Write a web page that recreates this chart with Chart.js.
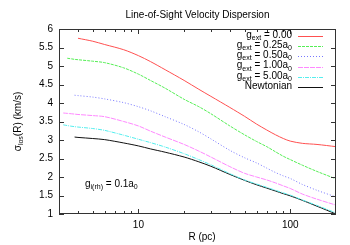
<!DOCTYPE html>
<html lang="en">
<head>
  <meta charset="UTF-8">
  <title>Line-of-Sight Velocity Dispersion</title>
  <script src="https://cdn.jsdelivr.net/npm/chart.js"></script>
  <style>
    body {
      margin: 0;
      background: #fff;
    }
    canvas {
      display: block;
    }
  </style>
</head>
<body>
  <canvas id="grafica" width="350" height="245"></canvas>

  <script>
    // Radios (pc) y dispersiones (km/s)
    const radius = [3.2, 3.4, 3.8, 4, 5, 6, 8, 10, 12, 15, 20, 25, 30, 40, 50, 60, 70, 80, 90, 100, 120, 150, 200];
    const gExt000 = [null, null, null, 5.75, 5.67, 5.58, 5.44, 5.28, 5.12, 4.90, 4.61, 4.37, 4.18, 3.88, 3.64, 3.43, 3.27, 3.14, 3.04, 2.97, 2.91, 2.88, 2.82];
    const gExt025 = [null, 5.21, 5.18, 5.17, 5.13, 5.09, 4.95, 4.78, 4.61, 4.40, 4.10, 3.90, 3.71, 3.38, 3.14, 2.96, 2.82, 2.68, 2.56, 2.47, 2.32, 2.15, 1.95];
    const gExt050 = [null, null, 4.21, 4.20, 4.16, 4.11, 4.01, 3.90, 3.79, 3.63, 3.42, 3.22, 3.03, 2.72, 2.52, 2.38, 2.24, 2.12, 2.03, 1.96, 1.80, 1.64, 1.46];
    const gExt100 = [3.73, 3.72, 3.70, 3.69, 3.66, 3.63, 3.50, 3.38, 3.24, 3.08, 2.88, 2.70, 2.54, 2.28, 2.10, 2.00, 1.92, 1.84, 1.76, 1.69, 1.54, 1.40, 1.24];
    const gExt500 = [3.41, 3.39, 3.36, 3.35, 3.31, 3.26, 3.13, 3.02, 2.93, 2.81, 2.63, 2.47, 2.33, 2.09, 1.92, 1.81, 1.72, 1.64, 1.57, 1.51, 1.38, 1.23, 1.03];
    const newtonian = [null, null, 3.08, 3.07, 3.04, 3.01, 2.92, 2.84, 2.76, 2.67, 2.54, 2.41, 2.29, 2.07, 1.91, 1.79, 1.70, 1.62, 1.55, 1.49, 1.37, 1.21, 1.00];

    const xTickLabels = [10, 100];
    const xMinorTicks = [4, 5, 6, 7, 8, 9, 20, 30, 40, 50, 60, 70, 80, 90];
    const yTicks = [1, 1.5, 2, 2.5, 3, 3.5, 4, 4.5, 5, 5.5, 6];

    const seriesNames = [
      [['g'], ['ext', 1], [' = 0.00']],
      [['g'], ['ext', 1], [' = 0.25a'], ['0', 1]],
      [['g'], ['ext', 1], [' = 0.50a'], ['0', 1]],
      [['g'], ['ext', 1], [' = 1.00a'], ['0', 1]],
      [['g'], ['ext', 1], [' = 5.00a'], ['0', 1]],
      [['Newtonian']]
    ];
    const seriesValues = [gExt000, gExt025, gExt050, gExt100, gExt500, newtonian];
    const colores = ['#ff5050', '#55ee55', '#7777ff', '#ff88ff', '#55eeee', '#111111'];
    const guiones = [[], [3, 1], [1, 2], [5, 1], [4, 1, 1, 1], []];

    const FONT = '"Liberation Sans", Arial, sans-serif';

    function puntos(vals) {
      const out = [];
      radius.forEach((r, i) => {
        if (vals[i] !== null) out.push({ x: r, y: vals[i] });
      });
      return out;
    }

    // Texto con subíndices
    function anchoRico(ctx, partes) {
      let w = 0;
      partes.forEach(p => {
        ctx.font = (p[1] ? '7px ' : '10px ') + FONT;
        w += ctx.measureText(p[0]).width;
      });
      return w;
    }
    function textoRico(ctx, partes, x, y, align) {
      const w = anchoRico(ctx, partes);
      let cx = align === 'right' ? x - w : (align === 'center' ? x - w / 2 : x);
      ctx.textAlign = 'left';
      ctx.textBaseline = 'middle';
      partes.forEach(p => {
        ctx.font = (p[1] ? '7px ' : '10px ') + FONT;
        ctx.fillText(p[0], cx, y + (p[1] ? 3 : 0));
        cx += ctx.measureText(p[0]).width;
      });
    }

    const decorado = {
      id: 'decorado',
      afterDraw(chart) {
        const ctx = chart.ctx;
        const a = chart.chartArea;
        const sx = chart.scales.x;
        const sy = chart.scales.y;
        ctx.save();
        ctx.fillStyle = '#000';

        // marco
        ctx.strokeStyle = '#333';
        ctx.lineWidth = 1;
        ctx.setLineDash([]);
        ctx.strokeRect(a.left + 0.5, a.top + 0.5, a.right - a.left - 1, a.bottom - a.top - 1);

        // marcas hacia dentro
        ctx.beginPath();
        xTickLabels.concat(xMinorTicks).forEach(v => {
          const len = xTickLabels.includes(v) ? 5 : 3;
          const px = Math.round(sx.getPixelForValue(v)) + 0.5;
          ctx.moveTo(px, a.bottom); ctx.lineTo(px, a.bottom - len);
          ctx.moveTo(px, a.top); ctx.lineTo(px, a.top + len);
        });
        yTicks.forEach(v => {
          const py = Math.round(sy.getPixelForValue(v)) + 0.5;
          ctx.moveTo(a.left, py); ctx.lineTo(a.left + 5, py);
          ctx.moveTo(a.right, py); ctx.lineTo(a.right - 5, py);
        });
        ctx.stroke();

        // título y ejes
        ctx.font = '10px ' + FONT;
        ctx.textAlign = 'center';
        ctx.textBaseline = 'middle';
        ctx.fillText('Line-of-Sight Velocity Dispersion', (a.left + a.right) / 2, 15);
        ctx.fillText('R (pc)', 202, 237);

        ctx.save();
        ctx.translate(18, (a.top + a.bottom) / 2);
        ctx.rotate(-Math.PI / 2);
        textoRico(ctx, [['σ'], ['los', 1], ['(R) (km/s)']], 0, 0, 'center');
        ctx.restore();

        textoRico(ctx, [['g'], ['i(rh)', 1], [' = 0.1a'], ['0', 1]], 85, 184, 'left');

        // leyenda
        seriesNames.forEach((partes, i) => {
          const y = 35 + i * 10.2;
          ctx.fillStyle = '#000';
          textoRico(ctx, partes, 292, y, 'right');
          ctx.strokeStyle = colores[i];
          ctx.setLineDash(guiones[i]);
          ctx.beginPath();
          ctx.moveTo(298, Math.round(y + 1) + 0.5);
          ctx.lineTo(323, Math.round(y + 1) + 0.5);
          ctx.stroke();
        });
        ctx.restore();
      }
    };

    const ctx = document.getElementById('grafica').getContext('2d');
    new Chart(ctx, {
      type: 'line',
      data: {
        datasets: seriesValues.map((vals, i) => ({
          data: puntos(vals),
          borderColor: colores[i],
          borderWidth: 1,
          borderDash: guiones[i],
          pointRadius: 0,
          tension: 0.3,
          fill: false
        }))
      },
      options: {
        responsive: false,
        animation: false,
        devicePixelRatio: 1,
        layout: { padding: { top: 29, right: 14, left: 0, bottom: 0 } },
        plugins: {
          legend: { display: false },
          tooltip: { enabled: false }
        },
        scales: {
          x: {
            type: 'logarithmic',
            min: 3,
            max: 200,
            grid: { display: false, drawTicks: false },
            border: { display: false },
            afterBuildTicks: s => { s.ticks = xTickLabels.map(v => ({ value: v })); },
            afterFit: s => { s.height = 31; },
            ticks: {
              autoSkip: false,
              maxRotation: 0,
              padding: 5,
              color: '#000',
              font: { family: FONT, size: 10 },
              callback: v => String(v)
            }
          },
          y: {
            min: 1,
            max: 6,
            grid: { display: false, drawTicks: false },
            border: { display: false },
            afterBuildTicks: s => { s.ticks = yTicks.map(v => ({ value: v })); },
            afterFit: s => { s.width = 59; },
            ticks: {
              padding: 6,
              color: '#000',
              font: { family: FONT, size: 10 },
              callback: v => String(v)
            }
          }
        }
      },
      plugins: [decorado]
    });
  </script>
</body>
</html>
